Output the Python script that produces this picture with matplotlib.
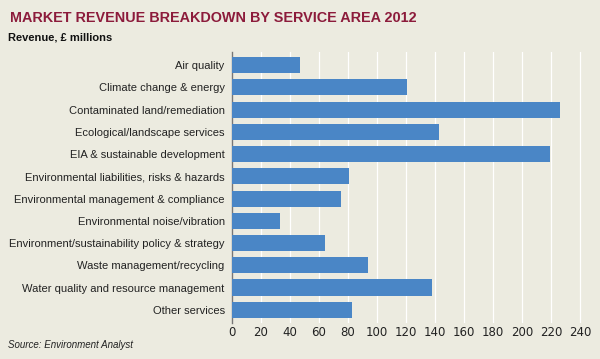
import matplotlib
matplotlib.use('Agg')
import matplotlib.pyplot as plt
from matplotlib import font_manager

categories = ['Air quality', 'Climate change & energy', 'Contaminated land/remediation',
              'Ecological/landscape services', 'EIA & sustainable development',
              'Environmental liabilities, risks & hazards', 'Environmental management & compliance',
              'Environmental noise/vibration', 'Environment/sustainability policy & strategy',
              'Waste management/recycling', 'Water quality and resource management',
              'Other services']
revenue = [47, 121, 226, 143, 219, 81, 75, 33, 64, 94, 138, 83]
xticks = list(range(0, 241, 20))

bg = '#ECEBE0'
bar_color = '#4A86C6'

names = {f.name for f in font_manager.fontManager.ttflist}
if 'Liberation Sans Narrow' in names:
    title_font, title_size = 'Liberation Sans Narrow', 12.6
else:
    title_font, title_size = 'Liberation Sans', 10.4

fig = plt.figure(figsize=(6, 3.59), dpi=100, facecolor=bg)
ax = fig.add_axes([0.386, 0.100, 0.605, 0.756], facecolor=bg)

pos = list(range(len(categories)))
ax.barh(pos, revenue, height=0.72, color=bar_color, zorder=3)
ax.set_ylim(len(categories) - 0.4, -0.6)
ax.set_xlim(0, 250)
ax.set_yticks(pos)
ax.set_yticklabels(categories, fontsize=8, color='#222222', family='Liberation Sans')
ax.set_xticks(xticks)
ax.set_xticklabels([str(t) for t in xticks], fontsize=8.5, color='#222222')
ax.tick_params(axis='y', length=0, pad=5)
ax.tick_params(axis='x', length=0, pad=2)
ax.grid(axis='x', color='white', lw=0.9, zorder=0)
for s in ['top', 'right', 'bottom']:
    ax.spines[s].set_visible(False)
ax.spines['left'].set_color('#777777')
ax.spines['left'].set_linewidth(1.0)

fig.text(0.016, 0.950, 'MARKET REVENUE BREAKDOWN BY SERVICE AREA 2012', fontsize=title_size,
         fontweight='bold', color='#8C1B3B', va='center', family=title_font)
fig.text(0.013, 0.895, 'Revenue, \u00a3 millions', fontsize=8, fontweight='bold',
         color='#111111', va='center', family='Liberation Sans')
fig.text(0.013, 0.038, 'Source: Environment Analyst', fontsize=7, style='italic',
         color='#222222', va='center', family='Liberation Sans')

fig.savefig('out.png', dpi=100, facecolor=bg)
